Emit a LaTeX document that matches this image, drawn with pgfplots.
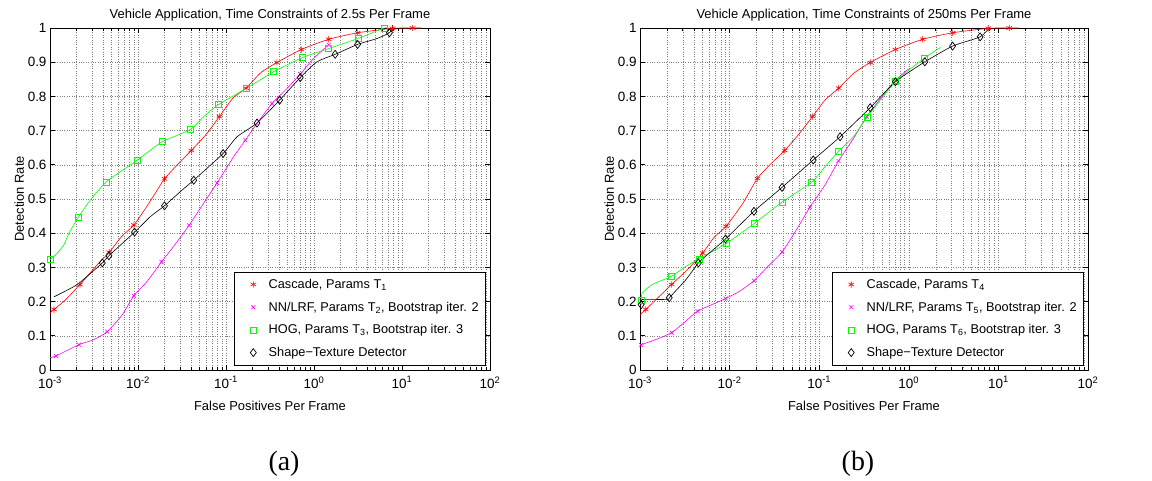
\documentclass[border=0pt]{standalone}
\usepackage{fontspec}
\setmainfont{Liberation Sans}
\newfontfamily\capfont{Liberation Serif}
\usepackage{pgfplots}
\pgfplotsset{compat=1.18}
\definecolor{cgreen}{rgb}{0,1,0}
\definecolor{cmag}{rgb}{1,0,1}
\definecolor{cred}{rgb}{1,0,0}
\tikzset{
  lred/.style={cred, line width=0.6bp, smooth, tension=0.35},
  lmag/.style={cmag, line width=0.6bp, smooth, tension=0.35},
  lgrn/.style={cgreen, line width=0.6bp, smooth, tension=0.35},
  lblk/.style={black, line width=0.6bp, smooth, tension=0.35},
}
\pgfplotsset{
  legimg/.style={legend image code/.code={\path (0bp,0bp) (27bp,0bp); \draw plot coordinates {(14bp,0bp)};}},
  mkred/.style={color=cred, mark=asterisk, mark size=3.2bp, mark options={line width=0.6bp}},
  mkmag/.style={color=cmag, mark=x, mark size=2.8bp, mark options={line width=0.6bp}},
  mkgrn/.style={color=cgreen, mark=square, mark size=3bp, mark options={line width=0.6bp}},
  mkblk/.style={color=black, mark=diamond, mark size=4bp, mark options={line width=0.7bp}},
}
\begin{document}
\begin{tikzpicture}[x=1bp,y=1bp]
\useasboundingbox (0,0) rectangle (1152,481);
% ---------------- (a)
\begin{axis}[scale only axis, anchor=south west,
    height=342bp, width=440bp, at={(50bp,111bp)},
    xmode=log, xmin=1e-3, xmax=1e2, ymin=0, ymax=1,
    xtick={1e-3,1e-2,1e-1,1,10,100},
    xticklabels={10\textsuperscript{-3},10\textsuperscript{-2},10\textsuperscript{-1},10\textsuperscript{0},10\textsuperscript{1},10\textsuperscript{2}},
    ytick={0,0.1,0.2,0.3,0.4,0.5,0.6,0.7,0.8,0.9,1},
    yticklabels={0,0.1,0.2,0.3,0.4,0.5,0.6,0.7,0.8,0.9,1},
    grid=both,
    major grid style={dotted, black!50, line width=0.5bp},
    minor grid style={dotted, black!50, line width=0.5bp},
    tick align=inside,
    major tick length=5bp, minor tick length=3bp,
    axis line style={line width=0.7bp},
    every tick/.style={black, line width=0.6bp},
    tick label style={font=\fontsize{13.5}{15}\selectfont},
    xticklabel style={yshift=-3bp},
    label style={font=\fontsize{13}{15}\selectfont},
    title style={font=\fontsize{13}{15}\selectfont, yshift=-3bp},
    xlabel={False Positives Per Frame},
    ylabel={Detection Rate},
    xlabel style={yshift=-6bp},
    ylabel style={yshift=-3bp},
    legend style={at={(0.991,0.0136)}, anchor=south east, draw=black, line width=0.7bp,
      font=\fontsize{12.8}{15}\selectfont, row sep=8bp, inner xsep=5bp, inner ysep=5bp},
    legend cell align=left,
  title={Vehicle Application, Time Constraints of 2.5s Per Frame}]
\addplot[lred, forget plot] coordinates {(0.001,0.167) (0.00111,0.177) (0.0015,0.205) (0.00219,0.250) (0.003,0.29) (0.0035,0.31) (0.00471,0.344) (0.0065,0.39) (0.00897,0.424) (0.012,0.47) (0.016,0.52) (0.02,0.559) (0.028,0.60) (0.0404,0.642) (0.06,0.69) (0.0841,0.741) (0.12,0.795) (0.169,0.824) (0.25,0.87) (0.379,0.899) (0.716,0.937) (1.47,0.967) (3.13,0.986) (7.8,0.999) (13.2,1.0) (16.8,1.0)};
\addplot[lmag, forget plot] coordinates {(0.001,0.036) (0.00117,0.041) (0.00213,0.074) (0.00315,0.089) (0.00447,0.112) (0.00656,0.160) (0.00897,0.217) (0.0127,0.259) (0.0185,0.316) (0.0255,0.362) (0.0381,0.423) (0.0558,0.488) (0.0792,0.547) (0.1225,0.624) (0.166,0.672) (0.225,0.721) (0.333,0.779) (0.493,0.823) (0.698,0.865) (0.989,0.911) (1.47,0.951)};
\addplot[lgrn, forget plot] coordinates {(0.001,0.323) (0.00116,0.337) (0.00144,0.366) (0.00164,0.400) (0.00211,0.447) (0.00289,0.498) (0.00431,0.549) (0.00634,0.580) (0.0097,0.613) (0.0139,0.643) (0.019,0.668) (0.0398,0.704) (0.0558,0.741) (0.082,0.776) (0.169,0.823) (0.348,0.872) (0.73,0.913) (1.47,0.940) (3.2,0.970) (6.27,1.0) (7.0,1.0)};
\addplot[lblk, forget plot] coordinates {(0.00111,0.214) (0.00204,0.250) (0.00393,0.313) (0.00467,0.334) (0.00914,0.403) (0.0139,0.449) (0.02,0.48) (0.0304,0.522) (0.043,0.555) (0.0927,0.633) (0.1337,0.682) (0.225,0.722) (0.407,0.789) (0.698,0.855) (1.08,0.901) (1.74,0.923) (3.13,0.952) (5.18,0.969) (7.2,0.986) (7.8,1.0)};
\addplot[only marks, mkred, forget plot] coordinates {(0.00111,0.177) (0.00219,0.250) (0.00471,0.344) (0.00897,0.424) (0.02,0.559) (0.0404,0.642) (0.0841,0.741) (0.169,0.824) (0.379,0.899) (0.716,0.937) (1.47,0.967) (3.13,0.986) (7.8,0.999) (13.2,1.0)};
\addplot[only marks, mkmag, forget plot] coordinates {(0.00117,0.041) (0.00213,0.074) (0.00447,0.112) (0.00897,0.217) (0.0185,0.316) (0.0381,0.423) (0.0792,0.547) (0.166,0.672) (0.333,0.779) (0.698,0.865) (1.47,0.951)};
\addplot[only marks, mkgrn, forget plot] coordinates {(0.00102,0.323) (0.00211,0.447) (0.00431,0.549) (0.0097,0.613) (0.019,0.668) (0.0398,0.704) (0.082,0.776) (0.169,0.823) (0.348,0.872) (0.73,0.913) (1.47,0.940) (3.2,0.970) (6.27,1.0)};
\addplot[only marks, mkblk, forget plot] coordinates {(0.00393,0.313) (0.00467,0.334) (0.00914,0.403) (0.02,0.48) (0.043,0.555) (0.0927,0.633) (0.225,0.722) (0.407,0.789) (0.698,0.855) (1.74,0.923) (3.13,0.952) (7.2,0.986)};
\addlegendimage{mkred, legimg}
\addlegendentry{Cascade, Params T\textsubscript{1}}
\addlegendimage{mkmag, legimg}
\addlegendentry{NN/LRF, Params T\textsubscript{2}, Bootstrap iter. 2}
\addlegendimage{mkgrn, legimg}
\addlegendentry{HOG, Params T\textsubscript{3}, Bootstrap iter. 3}
\addlegendimage{mkblk, legimg}
\addlegendentry{Shape\textminus Texture Detector}
\end{axis}
% ---------------- (b)
\begin{axis}[scale only axis, anchor=south west,
    height=342bp, width=448bp, at={(640bp,111bp)},
    xmode=log, xmin=1e-3, xmax=1e2, ymin=0, ymax=1,
    xtick={1e-3,1e-2,1e-1,1,10,100},
    xticklabels={10\textsuperscript{-3},10\textsuperscript{-2},10\textsuperscript{-1},10\textsuperscript{0},10\textsuperscript{1},10\textsuperscript{2}},
    ytick={0,0.1,0.2,0.3,0.4,0.5,0.6,0.7,0.8,0.9,1},
    yticklabels={0,0.1,0.2,0.3,0.4,0.5,0.6,0.7,0.8,0.9,1},
    grid=both,
    major grid style={dotted, black!50, line width=0.5bp},
    minor grid style={dotted, black!50, line width=0.5bp},
    tick align=inside,
    major tick length=5bp, minor tick length=3bp,
    axis line style={line width=0.7bp},
    every tick/.style={black, line width=0.6bp},
    tick label style={font=\fontsize{13.5}{15}\selectfont},
    xticklabel style={yshift=-3bp},
    label style={font=\fontsize{13}{15}\selectfont},
    title style={font=\fontsize{13}{15}\selectfont, yshift=-3bp},
    xlabel={False Positives Per Frame},
    ylabel={Detection Rate},
    xlabel style={yshift=-6bp},
    ylabel style={yshift=-3bp},
    legend style={at={(0.991,0.0136)}, anchor=south east, draw=black, line width=0.7bp,
      font=\fontsize{12.8}{15}\selectfont, row sep=8bp, inner xsep=5bp, inner ysep=5bp},
    legend cell align=left,
  title={Vehicle Application, Time Constraints of 250ms Per Frame}]
\addplot[lred, forget plot] coordinates {(0.001,0.162) (0.00116,0.177) (0.00225,0.25) (0.00325,0.289) (0.005,0.342) (0.00676,0.389) (0.00914,0.42) (0.0141,0.488) (0.0204,0.56) (0.0292,0.604) (0.0412,0.642) (0.0582,0.687) (0.0843,0.741) (0.116,0.789) (0.165,0.824) (0.241,0.867) (0.371,0.899) (0.708,0.937) (1.43,0.967) (3.08,0.986) (7.7,0.999) (13.2,1.0) (16.7,1.0)};
\addplot[lmag, forget plot] coordinates {(0.001,0.073) (0.0015,0.089) (0.00225,0.109) (0.00325,0.143) (0.0044,0.172) (0.009,0.209) (0.0129,0.23) (0.0187,0.261) (0.0268,0.303) (0.0385,0.345) (0.0557,0.41) (0.0787,0.476) (0.116,0.541) (0.164,0.611) (0.241,0.677) (0.34,0.741) (0.501,0.799) (0.708,0.847) (1.0,0.881)};
\addplot[lgrn, forget plot] coordinates {(0.00103,0.203) (0.00106,0.225) (0.00137,0.25) (0.00225,0.274) (0.00325,0.303) (0.00459,0.325) (0.0093,0.371) (0.019,0.429) (0.0385,0.491) (0.0822,0.549) (0.116,0.594) (0.165,0.640) (0.241,0.682) (0.343,0.739) (0.708,0.843) (1.47,0.911) (2.26,0.943)};
\addplot[lblk, forget plot] coordinates {(0.00103,0.191) (0.00106,0.206) (0.00203,0.206) (0.00212,0.211) (0.00325,0.264) (0.00448,0.313) (0.00594,0.342) (0.009,0.383) (0.0187,0.464) (0.0385,0.534) (0.0857,0.614) (0.171,0.682) (0.371,0.767) (0.708,0.843) (1.51,0.901) (3.08,0.947) (6.25,0.974) (7.9,1.0)};
\addplot[only marks, mkred, forget plot] coordinates {(0.00116,0.177) (0.00225,0.25) (0.005,0.342) (0.00914,0.42) (0.0204,0.56) (0.0412,0.642) (0.0843,0.741) (0.165,0.824) (0.371,0.899) (0.708,0.937) (1.43,0.967) (3.08,0.986) (7.7,0.999) (13.2,1.0)};
\addplot[only marks, mkmag, forget plot] coordinates {(0.00103,0.073) (0.00225,0.109) (0.0044,0.172) (0.009,0.209) (0.0187,0.261) (0.0385,0.345) (0.0787,0.476) (0.164,0.611) (0.34,0.741) (0.708,0.847)};
\addplot[only marks, mkgrn, forget plot] coordinates {(0.00103,0.203) (0.00225,0.274) (0.00459,0.325) (0.0093,0.371) (0.019,0.429) (0.0385,0.491) (0.0822,0.549) (0.165,0.640) (0.343,0.739) (0.708,0.843) (1.47,0.911)};
\addplot[only marks, mkblk, forget plot] coordinates {(0.00103,0.191) (0.00212,0.211) (0.00448,0.313) (0.009,0.383) (0.0187,0.464) (0.0385,0.534) (0.0857,0.614) (0.171,0.682) (0.371,0.767) (0.708,0.843) (1.51,0.901) (3.08,0.947) (6.25,0.974)};
\addlegendimage{mkred, legimg}
\addlegendentry{Cascade, Params T\textsubscript{4}}
\addlegendimage{mkmag, legimg}
\addlegendentry{NN/LRF, Params T\textsubscript{5}, Bootstrap iter. 2}
\addlegendimage{mkgrn, legimg}
\addlegendentry{HOG, Params T\textsubscript{6}, Bootstrap iter. 3}
\addlegendimage{mkblk, legimg}
\addlegendentry{Shape\textminus Texture Detector}
\end{axis}
\node[font=\capfont\fontsize{28}{32}\selectfont] at (284,17) {(a)};
\node[font=\capfont\fontsize{28}{32}\selectfont] at (858,17) {(b)};
\end{tikzpicture}
\end{document}
